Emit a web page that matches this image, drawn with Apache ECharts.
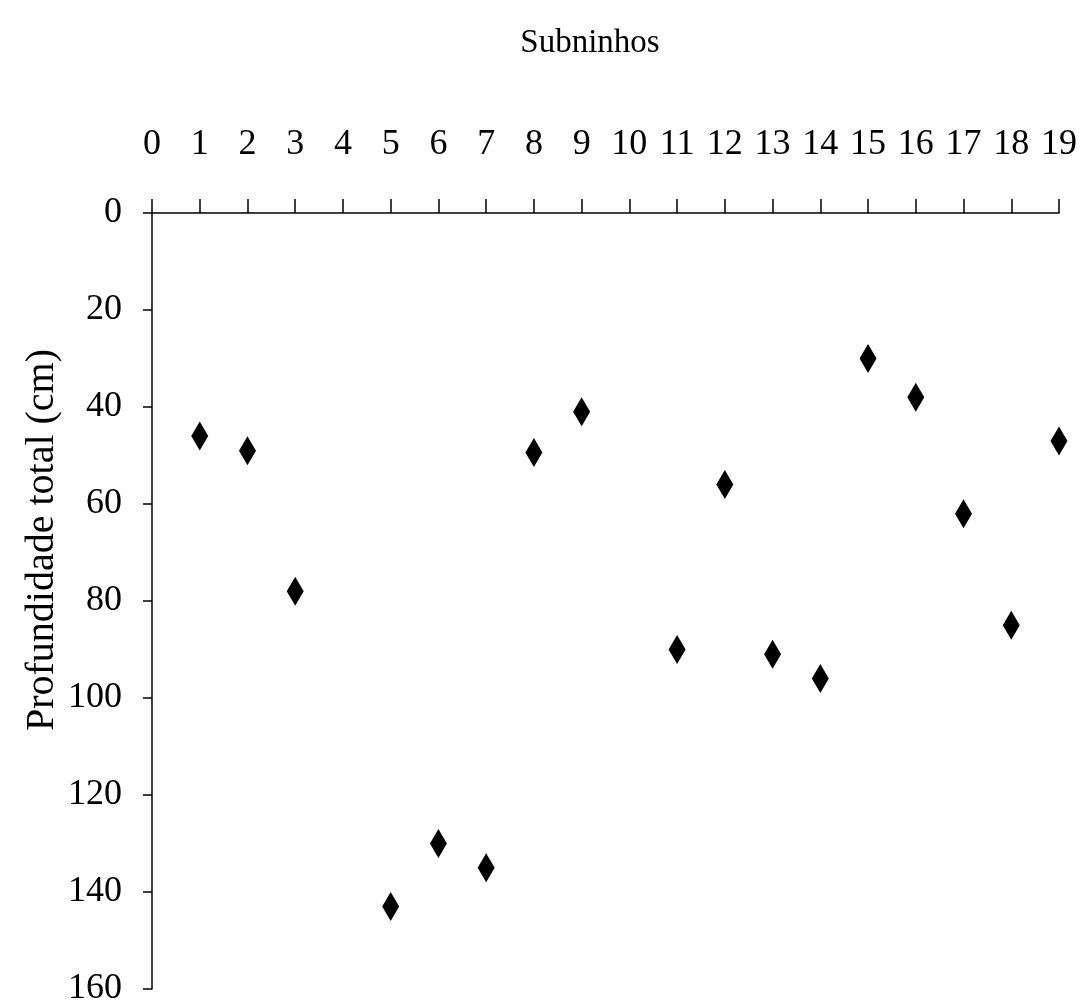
<!DOCTYPE html>
<html>
<head>
<meta charset="utf-8">
<script src="https://cdn.jsdelivr.net/npm/echarts@6/dist/echarts.min.js"></script>
<style>
  html, body { margin: 0; padding: 0; background: #fff; }
  #chart { width: 1080px; height: 1007px; }
</style>
</head>
<body>
<div id="chart"></div>
<script>
// subninho number and total depth (cm)
var subninhos = [1, 2, 3, 5, 6, 7, 8, 9, 11, 12, 13, 14, 15, 16, 17, 18, 19]
var profundidade = [46, 49, 78, 143, 130, 135, 49.4, 41, 90, 56, 91, 96, 30, 38, 62, 85, 47]

var xTitle = 'Subninhos'
var yTitle = 'Profundidade total (cm)'

var points = subninhos.map(function (s, i) {
  return [s, profundidade[i]]
})

var font = 'Liberation Serif'
var chart = echarts.init(document.getElementById('chart'))

chart.setOption({
  backgroundColor: '#fff',
  animation: false,
  title: {
    text: xTitle,
    left: 585,
    top: 22,
    textAlign: 'center',
    textStyle: { fontFamily: font, fontSize: 33, fontWeight: 'normal', color: '#000' }
  },
  graphic: [{
    type: 'text',
    x: 42,
    y: 540,
    rotation: Math.PI / 2,
    style: {
      text: yTitle,
      font: '40px "Liberation Serif"',
      fill: '#000',
      align: 'center',
      verticalAlign: 'middle'
    }
  }],
  grid: {
    left: 152,
    right: 21,
    top: 213,
    bottom: 15
  },
  xAxis: {
    type: 'value',
    position: 'top',
    min: 0,
    max: 19,
    interval: 1,
    splitLine: { show: false },
    axisLine: { lineStyle: { color: '#000', width: 1.5 } },
    axisTick: { inside: false, length: 14, lineStyle: { color: '#000', width: 1.5 } },
    axisLabel: {
      margin: 50,
      fontFamily: font,
      fontSize: 36,
      color: '#000'
    }
  },
  yAxis: {
    type: 'value',
    inverse: true,
    min: 0,
    max: 160,
    interval: 20,
    splitLine: { show: false },
    axisLine: { show: true, lineStyle: { color: '#000', width: 1.5 } },
    axisTick: { show: true, length: 9, lineStyle: { color: '#000', width: 1.5 } },
    axisLabel: {
      margin: 30,
      fontFamily: font,
      fontSize: 36,
      color: '#000'
    }
  },
  series: [{
    type: 'scatter',
    data: points,
    symbol: 'diamond',
    symbolSize: [17, 29],
    itemStyle: { color: '#000', opacity: 1 }
  }]
})
</script>
</body>
</html>
